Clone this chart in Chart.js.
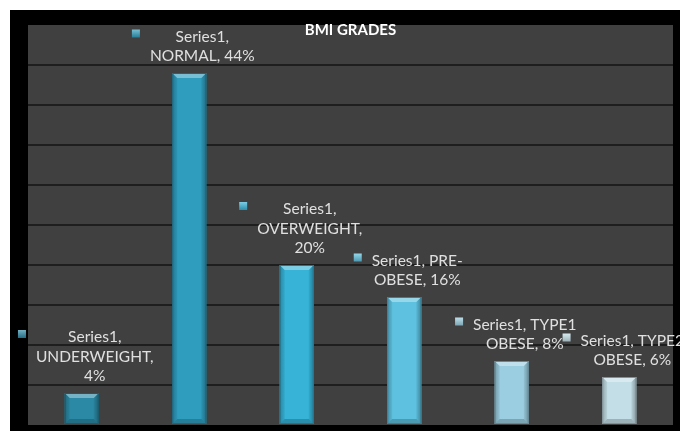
<!DOCTYPE html>
<html>
<head>
<meta charset="utf-8">
<title>BMI GRADES</title>
<script src="https://cdn.jsdelivr.net/npm/chart.js@4/dist/chart.umd.min.js"></script>
<style>
  html, body { margin: 0; padding: 0; background: #ffffff; }
  #frame { position: absolute; left: 10px; top: 10px; width: 670px; height: 421px; background: #000000; }
  #chart { display: block; }
</style>
</head>
<body>
<div id="frame"><canvas id="chart" width="670" height="421"></canvas></div>
<script>
// BMI grade shares (percent of respondents)
const chartTitle = 'BMI GRADES';
const seriesName = 'Series1';
const categories = ['UNDERWEIGHT', 'NORMAL', 'OVERWEIGHT', 'PRE-OBESE', 'TYPE1 OBESE', 'TYPE2 OBESE'];
const values = [4, 44, 20, 16, 8, 6];
const barColors = ['#2b89a5', '#2f9dbe', '#36b3d7', '#5ec1df', '#9bcee0', '#c3dee6'];
const axisMin = 0;
const axisMax = 50;
const axisStep = 5;

const LABEL_FONT = '15.5px Lato, "Open Sans", sans-serif';
const TITLE_FONT = 'bold 15px Lato, "Open Sans", sans-serif';
const LABEL_COLOR = '#e0e0e0';
const LABEL_WRAP = 108;
const LINE_H = 19.5;

function shade(hex, amt) {
  const n = parseInt(hex.slice(1), 16);
  let r = (n >> 16) & 255, g = (n >> 8) & 255, b = n & 255;
  const f = c => Math.max(0, Math.min(255, Math.round(amt >= 0 ? c + (255 - c) * amt : c * (1 + amt))));
  return 'rgb(' + f(r) + ',' + f(g) + ',' + f(b) + ')';
}

// word wrap that also allows breaking right after a hyphen
function wrapText(ctx, text, maxW) {
  const tokens = text.match(/[^\s-]+-?|\s+/g) || [];
  const lines = [];
  let cur = '';
  for (const t of tokens) {
    if (/^\s+$/.test(t)) { cur += t; continue; }
    const trial = cur + t;
    if (cur.trim() && ctx.measureText(trial.trim()).width > maxW) {
      lines.push(cur.trim());
      cur = t;
    } else {
      cur = trial;
    }
  }
  if (cur.trim()) lines.push(cur.trim());
  return lines;
}

const plotBackground = {
  id: 'plotBackground',
  beforeDraw(chart) {
    const { ctx, chartArea: a } = chart;
    ctx.save();
    ctx.fillStyle = '#404040';
    ctx.fillRect(a.left, a.top, a.right - a.left, a.bottom - a.top);
    ctx.restore();
  }
};

// bevelled look on each bar
const bevel = {
  id: 'bevel',
  afterDatasetsDraw(chart) {
    const { ctx } = chart;
    const meta = chart.getDatasetMeta(0);
    meta.data.forEach((bar, i) => {
      const p = bar.getProps(['x', 'y', 'base', 'width'], true);
      const l = p.x - p.width / 2, r = p.x + p.width / 2, t = p.y, b = p.base;
      const d = 5;
      const c = barColors[i];
      ctx.save();
      const g = ctx.createLinearGradient(l, 0, r, 0);
      g.addColorStop(0, shade(c, -0.25));
      g.addColorStop(0.15, shade(c, -0.05));
      g.addColorStop(0.85, shade(c, -0.05));
      g.addColorStop(1, shade(c, -0.3));
      ctx.fillStyle = g;
      ctx.fillRect(l, t, r - l, b - t);
      ctx.fillStyle = c;
      ctx.fillRect(l + d, t + d, r - l - 2 * d, b - t - 2 * d);
      // top facet
      ctx.beginPath();
      ctx.moveTo(l, t); ctx.lineTo(r, t); ctx.lineTo(r - d, t + d); ctx.lineTo(l + d, t + d); ctx.closePath();
      ctx.fillStyle = shade(c, 0.35);
      ctx.fill();
      // bottom facet
      ctx.beginPath();
      ctx.moveTo(l, b); ctx.lineTo(r, b); ctx.lineTo(r - d, b - d); ctx.lineTo(l + d, b - d); ctx.closePath();
      ctx.fillStyle = shade(c, -0.2);
      ctx.fill();
      ctx.strokeStyle = shade(c, -0.35);
      ctx.lineWidth = 1;
      ctx.strokeRect(l + 0.5, t + 0.5, r - l - 1, b - t - 1);
      ctx.restore();
    });
  }
};

// data labels with a legend key, plus the chart title
const labelsAndTitle = {
  id: 'labelsAndTitle',
  afterDraw(chart) {
    const { ctx, chartArea: a } = chart;
    const meta = chart.getDatasetMeta(0);
    ctx.save();
    ctx.font = LABEL_FONT;
    ctx.textBaseline = 'middle';
    ctx.textAlign = 'center';
    meta.data.forEach((bar, i) => {
      const p = bar.getProps(['x', 'y'], true);
      const text = seriesName + ', ' + categories[i] + ', ' + values[i] + '%';
      const lines = wrapText(ctx, text, LABEL_WRAP);
      const blockW = Math.max(...lines.map(s => ctx.measureText(s).width));
      const key = 8, gap = 10;
      const total = key + gap + blockW;
      const left = p.x + 4 - total / 2;
      const cx = left + key + gap + blockW / 2;
      const lastY = p.y - 17;
      const firstY = lastY - (lines.length - 1) * LINE_H;
      ctx.fillStyle = LABEL_COLOR;
      lines.forEach((s, k) => ctx.fillText(s, cx, firstY + k * LINE_H));
      // legend key square
      const ky = firstY - 3 - key / 2;
      const kg = ctx.createLinearGradient(0, ky, 0, ky + key);
      kg.addColorStop(0, shade(barColors[i], 0.35));
      kg.addColorStop(1, shade(barColors[i], -0.2));
      ctx.fillStyle = kg;
      ctx.fillRect(left, ky, key, key);
    });
    ctx.font = TITLE_FONT;
    ctx.fillStyle = '#ffffff';
    ctx.fillText(chartTitle, (a.left + a.right) / 2, a.top + 5);
    ctx.restore();
  }
};

new Chart(document.getElementById('chart'), {
  type: 'bar',
  data: {
    labels: categories,
    datasets: [{
      label: seriesName,
      data: values,
      backgroundColor: barColors,
      borderWidth: 0,
      barPercentage: 0.317,
      categoryPercentage: 1.0
    }]
  },
  options: {
    responsive: false,
    animation: false,
    devicePixelRatio: 1,
    layout: { padding: { left: 18, top: 15, right: 7, bottom: 6 } },
    plugins: { legend: { display: false }, title: { display: false }, tooltip: { enabled: false } },
    scales: {
      x: { display: false },
      y: {
        min: axisMin,
        max: axisMax,
        ticks: { display: false, stepSize: axisStep },
        border: { display: false },
        grid: {
          drawTicks: false,
          lineWidth: 2,
          color: c => (c.tick && (c.tick.value === axisMin || c.tick.value === axisMax)) ? 'rgba(0,0,0,0)' : '#1e1e1e'
        }
      }
    }
  },
  plugins: [plotBackground, bevel, labelsAndTitle]
});
</script>
</body>
</html>
